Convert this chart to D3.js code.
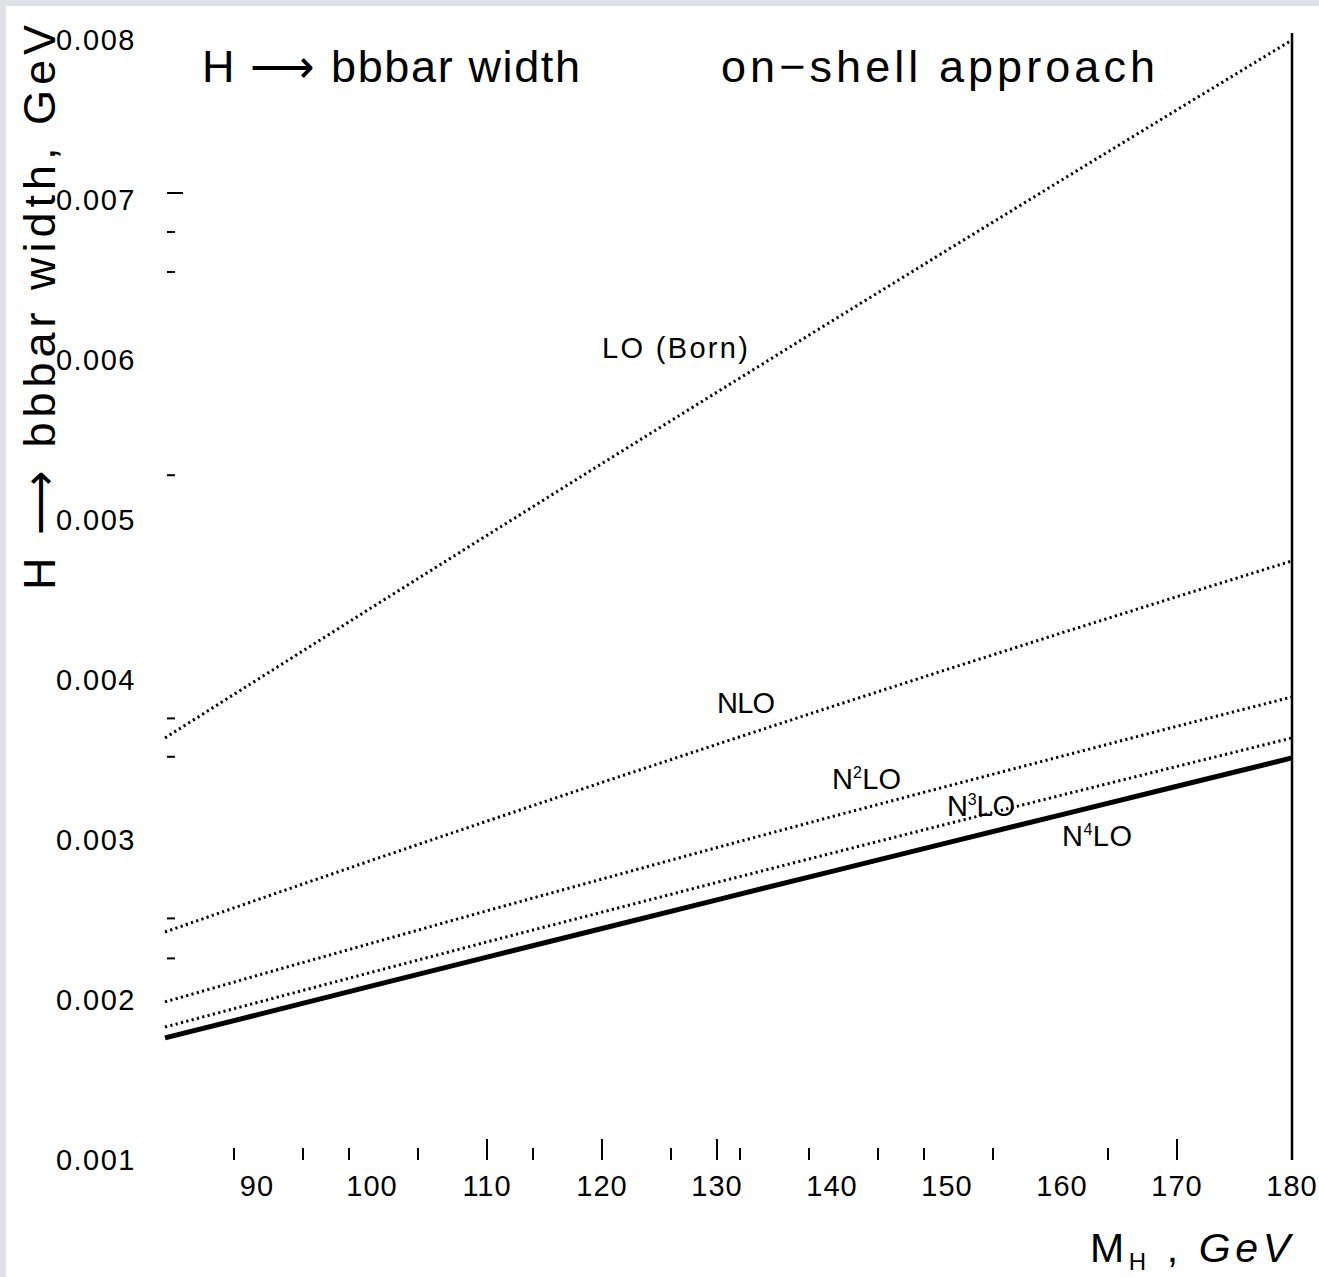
<!DOCTYPE html>
<html>
<head>
<meta charset="utf-8">
<script src="https://cdn.jsdelivr.net/npm/d3@7"></script>
<style>
body { margin: 0; background: #dfe3e8; }
svg { display: block; }
</style>
</head>
<body>
<svg id="chart" width="1319" height="1277"></svg>
<script>
// Higgs mass points, GeV
const massPoints = [82, 90, 100, 110, 120, 130, 140, 150, 160, 170, 180]

// H -> bbbar width, GeV
const widthLO   = [0.003638, 0.004001, 0.004454, 0.004904, 0.005353, 0.005799, 0.006244, 0.006686, 0.007126, 0.007564, 0.008000]
const widthNLO  = [0.002425, 0.002626, 0.002874, 0.003118, 0.003360, 0.003598, 0.003834, 0.004066, 0.004295, 0.004521, 0.004744]
const widthN2LO = [0.001988, 0.002153, 0.002356, 0.002558, 0.002756, 0.002953, 0.003146, 0.003336, 0.003524, 0.003711, 0.003894]
const widthN3LO = [0.001831, 0.001984, 0.002174, 0.002363, 0.002549, 0.002735, 0.002918, 0.003100, 0.003281, 0.003460, 0.003638]
const widthN4LO = [0.001763, 0.001907, 0.002088, 0.002268, 0.002447, 0.002626, 0.002804, 0.002982, 0.003159, 0.003336, 0.003513]

const xLabelValues = [90, 100, 110, 120, 130, 140, 150, 160, 170, 180]
const xMajorTicks = [110, 120, 130, 170]
const xMinorTicks = [88, 94, 98, 104, 114, 126, 132, 138, 144, 148, 154, 164]

const yLabelValues = [0.001, 0.002, 0.003, 0.004, 0.005, 0.006, 0.007, 0.008]
const yMajorTicks = [0.007]
const yMinorTicks = [0.00680, 0.00655, 0.00528, 0.00376, 0.00352, 0.00251, 0.00226]

function drawChart(id) {
    const svg = d3.select(id)
    const W = +svg.attr("width"), H = +svg.attr("height")
    const font = "'Liberation Sans', Arial, Helvetica, sans-serif"

    svg.append("rect").attr("x", 6).attr("y", 6).attr("width", W - 6).attr("height", H - 6).attr("fill", "#fff")

    const x = d3.scaleLinear().domain([82, 180]).range([165, 1292])
    const y = d3.scaleLinear().domain([0.001, 0.008]).range([1160, 40])

    const series = [
        {name: "LO", values: widthLO, dotted: true, label: [{t: "LO (Born)"}], at: [120, 0.006013], len: 146},
        {name: "NLO", values: widthNLO, dotted: true, label: [{t: "NLO"}], at: [130, 0.003794], len: 58},
        {name: "N2LO", values: widthN2LO, dotted: true, label: [{t: "N"}, {t: "2", sup: true}, {t: "LO"}], at: [140, 0.003319], len: 69},
        {name: "N3LO", values: widthN3LO, dotted: true, label: [{t: "N"}, {t: "3", sup: true}, {t: "LO"}], at: [150, 0.003150], len: 68},
        {name: "N4LO", values: widthN4LO, dotted: false, label: [{t: "N"}, {t: "4", sup: true}, {t: "LO"}], at: [160, 0.002963], len: 70}
    ]

    const line = d3.line()
        .x(function(d) { return x(d.m); })
        .y(function(d) { return y(d.w); });

    const g = svg.append("g")

    // right frame line
    g.append("line")
        .attr("x1", x(180)).attr("x2", x(180))
        .attr("y1", y(0.008) - 7).attr("y2", y(0.001))
        .attr("stroke", "#000").attr("stroke-width", 2.5)

    // x ticks
    g.selectAll(".xminor").data(xMinorTicks).enter().append("line")
        .attr("x1", d => x(d)).attr("x2", d => x(d))
        .attr("y1", y(0.001) - 12).attr("y2", y(0.001))
        .attr("stroke", "#000").attr("stroke-width", 2)
    g.selectAll(".xmajor").data(xMajorTicks).enter().append("line")
        .attr("x1", d => x(d)).attr("x2", d => x(d))
        .attr("y1", y(0.001) - 21).attr("y2", y(0.001))
        .attr("stroke", "#000").attr("stroke-width", 2)
    g.selectAll(".xlabel").data(xLabelValues).enter().append("text")
        .attr("x", d => x(d)).attr("y", y(0.001) + 36)
        .attr("text-anchor", "middle")
        .style("font", "29px " + font).style("letter-spacing", "1px")
        .text(d => d)

    // y ticks
    g.selectAll(".yminor").data(yMinorTicks).enter().append("line")
        .attr("x1", 167).attr("x2", 175)
        .attr("y1", d => y(d)).attr("y2", d => y(d))
        .attr("stroke", "#000").attr("stroke-width", 2)
    g.selectAll(".ymajor").data(yMajorTicks).enter().append("line")
        .attr("x1", 167).attr("x2", 183)
        .attr("y1", d => y(d) - 7).attr("y2", d => y(d) - 7)
        .attr("stroke", "#000").attr("stroke-width", 2)
    g.selectAll(".ylabel").data(yLabelValues).enter().append("text")
        .attr("x", 136).attr("y", d => y(d))
        .attr("dy", "0.35em")
        .attr("text-anchor", "end")
        .style("font", "29px " + font).style("letter-spacing", "1.5px")
        .text(d => d.toFixed(3))

    // curves
    const curve = g.selectAll(".curve").data(series).enter().append("g").attr("class", "curve")
    curve.append("path")
        .attr("d", d => line(d.values.map((w, i) => ({m: massPoints[i], w: w}))))
        .attr("fill", "none")
        .attr("stroke", "#000")
        .attr("stroke-width", d => d.dotted ? 3 : 5)
        .attr("stroke-dasharray", d => d.dotted ? "2.2,3.3" : null)

    const lab = curve.append("text")
        .attr("x", d => x(d.at[0])).attr("y", d => y(d.at[1]))
        .attr("textLength", d => d.len).attr("lengthAdjust", "spacing")
        .style("font", "29px " + font)
    lab.selectAll("tspan").data(d => d.label).enter().append("tspan")
        .attr("dy", (p, i, nodes) => p.sup ? -11 : (i > 0 && d3.select(nodes[i - 1]).datum().sup ? 11 : 0))
        .style("font-size", p => p.sup ? "16px" : null)
        .text(p => p.t)

    // titles
    svg.append("text")
        .attr("x", 202).attr("y", 82)
        .attr("textLength", 378).attr("lengthAdjust", "spacing")
        .style("font", "45px " + font)
        .text("H \u27F6 bbbar width")
    svg.append("text")
        .attr("x", 721).attr("y", 82)
        .attr("textLength", 434).attr("lengthAdjust", "spacing")
        .style("font", "45px " + font)
        .text("on\u2212shell approach")

    svg.append("text")
        .attr("transform", "translate(55,590) rotate(-90)")
        .attr("textLength", 565).attr("lengthAdjust", "spacing")
        .style("font", "45px " + font)
        .text("H \u27F6 bbbar width, GeV")

    const xt = svg.append("text")
        .attr("x", 1090).attr("y", 1262)
        .attr("textLength", 200).attr("lengthAdjust", "spacing")
        .style("font", "41px " + font)
    xt.append("tspan").text("M")
    xt.append("tspan").attr("dy", 8).style("font-size", "24px").text("H")
    xt.append("tspan").attr("dy", -8).text(" , ")
    xt.append("tspan").style("font-style", "italic").text("GeV")
}

drawChart("#chart")
</script>
</body>
</html>
